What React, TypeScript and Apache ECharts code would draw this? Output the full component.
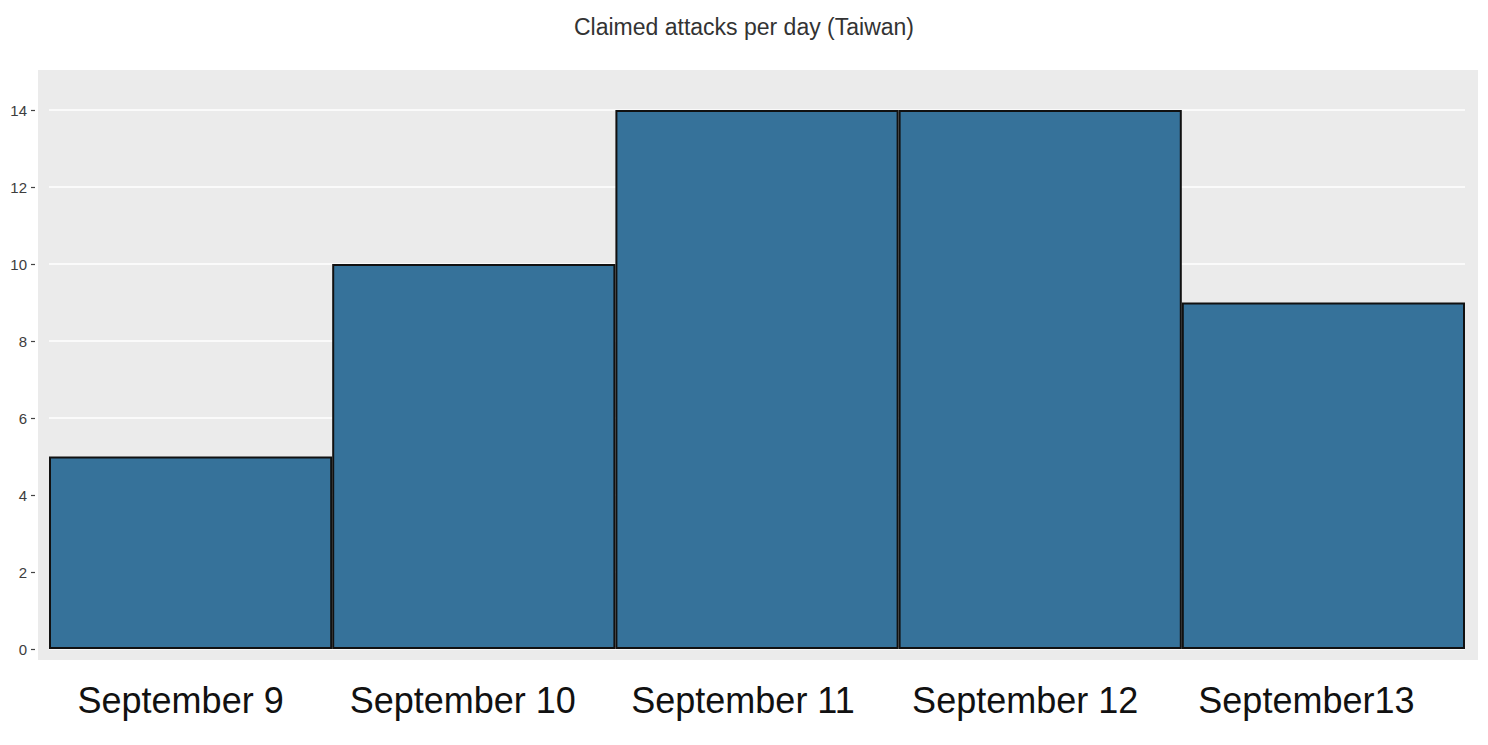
import React, { useEffect, useRef } from "react";
import * as echarts from "echarts";

const title = "Claimed attacks per day (Taiwan)";
const categories = ["September 9", "September 10", "September 11", "September 12", "September13"];
const attacks = [5, 10, 14, 14, 9];
const yMin = 0;
const yMax = 14;
const yInterval = 2;
// how far each day label sits left of its bar centre in the reference (px)
const labelShift = [10, 11, 14, 15, 17];

export default function App() {
  const ref = useRef<HTMLDivElement>(null);
  useEffect(() => {
    if (!ref.current) return;
    const chart = echarts.init(ref.current, undefined, { renderer: "svg" });
    const font = "Liberation Sans, Arial, sans-serif";
    const rich: Record<string, any> = {};
    labelShift.forEach((s, i) => {
      rich["l" + i] = {
        fontFamily: font,
        fontSize: 36,
        color: "#111111",
        padding: [0, s * 2, 0, 0],
      };
    });
    chart.setOption({
      animation: false,
      backgroundColor: "#ffffff",
      title: {
        text: title,
        left: "center",
        top: 10,
        textStyle: {
          fontFamily: font,
          fontSize: 23,
          fontWeight: "normal",
          color: "#333333",
        },
      },
      graphic: [
        {
          type: "rect",
          z: -10,
          silent: true,
          shape: { x: 38, y: 70, width: 1440, height: 590 },
          style: { fill: "#ebebeb" },
        },
      ],
      grid: { left: 49, right: 23, top: 110, bottom: 96, containLabel: false },
      xAxis: {
        type: "category",
        data: categories,
        axisLine: { show: false },
        axisTick: { show: false },
        axisLabel: {
          margin: 33,
          fontFamily: font,
          fontSize: 36,
          color: "#111111",
          interval: 0,
          formatter: (value: string, index: number) => `{l${index}|${value}}`,
          rich,
        },
      },
      yAxis: {
        type: "value",
        min: yMin,
        max: yMax,
        interval: yInterval,
        offset: 14,
        axisLine: { show: false },
        axisTick: { show: true, length: 4, lineStyle: { color: "#444444", width: 1.2 } },
        axisLabel: {
          margin: 8,
          fontFamily: font,
          fontSize: 15,
          color: "#3d3d3d",
        },
        splitLine: { show: true, lineStyle: { color: "#ffffff", width: 1.5 } },
      },
      series: [
        {
          type: "bar",
          data: attacks,
          barCategoryGap: "0%",
          itemStyle: { color: "#36729a", borderColor: "#111111", borderWidth: 2 },
        },
      ],
    });
    return () => chart.dispose();
  }, []);
  return (
    <div
      ref={ref}
      style={{ position: "absolute", left: 0, top: 0, width: 1488, height: 745 }}
    />
  );
}
